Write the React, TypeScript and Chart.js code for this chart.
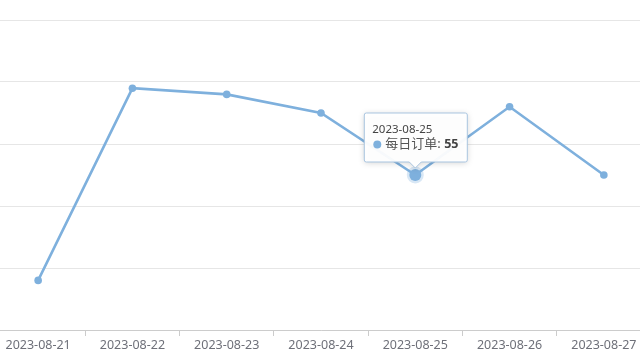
import React, { useEffect, useRef } from "react";
import { Chart, registerables } from "chart.js";

Chart.register(...registerables);

const categories = ["2023-08-21", "2023-08-22", "2023-08-23", "2023-08-24", "2023-08-25", "2023-08-26", "2023-08-27"];
const dailyOrders = [38, 69, 68, 65, 55, 66, 55];
const seriesName = "每日订单";
const activeIndex = 4;
const yMin = 30;
const yMax = 80;
const yStep = 10;

const LINE = "#7eb0dd";
const FONT = "'Noto Sans', 'Noto Sans CJK SC', sans-serif";

const tooltipPlugin = {
  id: "customTip",
  afterDraw(chart: any) {
    const meta = chart.getDatasetMeta(0);
    const pt = meta.data[activeIndex];
    if (!pt) return;
    const ctx = chart.ctx as CanvasRenderingContext2D;
    const px = pt.x;
    const py = pt.y;
    ctx.save();
    ctx.beginPath();
    ctx.arc(px, py, 8.5, 0, Math.PI * 2);
    ctx.fillStyle = "rgba(126,176,221,0.3)";
    ctx.fill();
    ctx.beginPath();
    ctx.arc(px, py, 6, 0, Math.PI * 2);
    ctx.fillStyle = LINE;
    ctx.fill();
    ctx.restore();

    const w = 103;
    const h = 49;
    const left = px - 51;
    const bottom = py - 13;
    const top = bottom - h;
    const caretH = 6;
    ctx.save();
    ctx.shadowColor = "rgba(0,0,0,0.18)";
    ctx.shadowBlur = 6;
    ctx.shadowOffsetY = 1;
    ctx.beginPath();
    ctx.moveTo(left + 2, top);
    ctx.lineTo(left + w - 2, top);
    ctx.quadraticCurveTo(left + w, top, left + w, top + 2);
    ctx.lineTo(left + w, bottom - 2);
    ctx.quadraticCurveTo(left + w, bottom, left + w - 2, bottom);
    ctx.lineTo(px + caretH, bottom);
    ctx.lineTo(px, bottom + caretH);
    ctx.lineTo(px - caretH, bottom);
    ctx.lineTo(left + 2, bottom);
    ctx.quadraticCurveTo(left, bottom, left, bottom - 2);
    ctx.lineTo(left, top + 2);
    ctx.quadraticCurveTo(left, top, left + 2, top);
    ctx.closePath();
    ctx.fillStyle = "rgba(255,255,255,0.95)";
    ctx.fill();
    ctx.shadowColor = "transparent";
    ctx.strokeStyle = "#a9c5e0";
    ctx.lineWidth = 1;
    ctx.stroke();

    ctx.textBaseline = "middle";
    ctx.textAlign = "left";
    ctx.fillStyle = "#444";
    ctx.font = `11.5px ${FONT}`;
    ctx.fillText(categories[activeIndex], left + 8, top + 16.5);

    ctx.beginPath();
    ctx.arc(left + 13, top + 31.5, 4, 0, Math.PI * 2);
    ctx.fillStyle = LINE;
    ctx.fill();

    ctx.fillStyle = "#555";
    ctx.font = `13px ${FONT}`;
    const label = seriesName + ": ";
    ctx.fillText(label, left + 21, top + 31.5);
    const lw = ctx.measureText(label).width;
    ctx.font = `bold 12.5px ${FONT}`;
    ctx.fillStyle = "#444";
    ctx.fillText(String(dailyOrders[activeIndex]), left + 21 + lw, top + 31.5);
    ctx.restore();
  },
};

export default function App() {
  const ref = useRef<HTMLCanvasElement | null>(null);
  useEffect(() => {
    if (!ref.current) return;
    const chart = new Chart(ref.current, {
      type: "line",
      data: {
        labels: categories,
        datasets: [
          {
            label: seriesName,
            data: dailyOrders,
            borderColor: LINE,
            backgroundColor: LINE,
            borderWidth: 2.6,
            pointRadius: 3.8,
            pointBackgroundColor: LINE,
            pointBorderWidth: 0,
            tension: 0,
          },
        ],
      },
      options: {
        responsive: false,
        animation: false,
        layout: { padding: { top: 20, left: 0, right: 0, bottom: 5 } },
        plugins: { legend: { display: false }, tooltip: { enabled: false } },
        scales: {
          x: {
            offset: true,
            grid: { offset: true, drawOnChartArea: false, drawTicks: true, tickLength: 6, color: "#ccc" },
            border: { color: "#ccc" },
            ticks: { color: "#6e7079", font: { family: FONT, size: 12.5 }, padding: 2, maxRotation: 0, autoSkip: false },
          },
          y: {
            min: yMin,
            max: yMax,
            ticks: { display: false, stepSize: yStep },
            grid: { color: "#e6e6e6", drawTicks: false },
            border: { display: false },
          },
        },
      },
      plugins: [tooltipPlugin],
    });
    return () => chart.destroy();
  }, []);
  return (
    <div style={{ position: "fixed", left: -13, top: 0, width: 668, height: 360, background: "#fff" }}>
      <canvas ref={ref} width={668} height={360} style={{ display: "block" }} />
    </div>
  );
}
